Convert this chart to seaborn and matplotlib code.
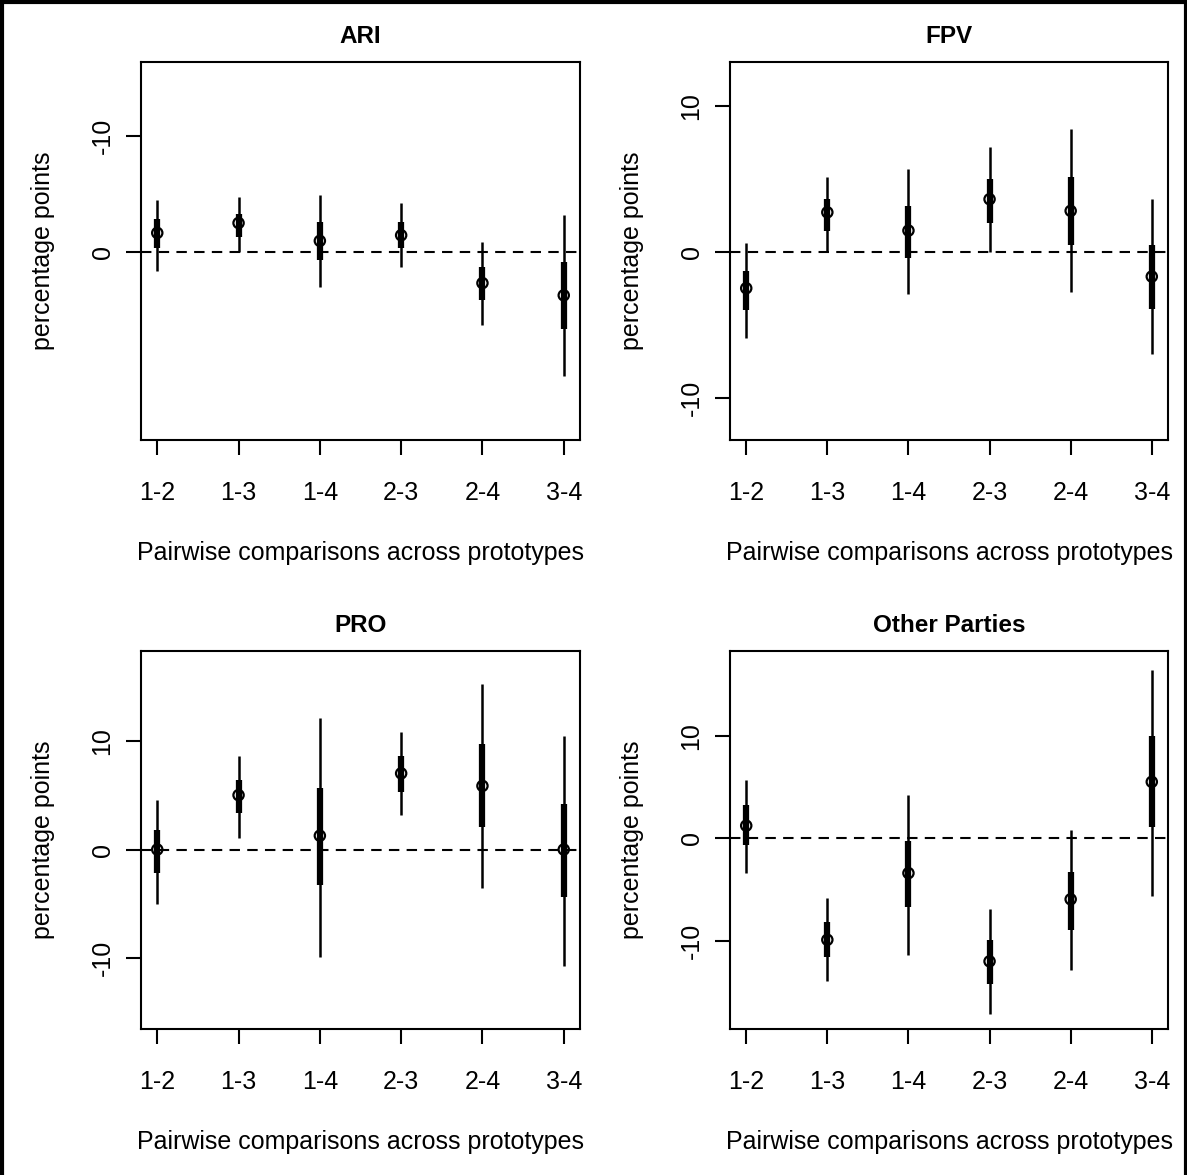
import numpy as np
import pandas as pd
import matplotlib
matplotlib.use("Agg")
import matplotlib.pyplot as plt
import seaborn as sns
from matplotlib.lines import Line2D

sns.set_style("white")
plt.rcParams['font.family'] = ['Liberation Sans', 'DejaVu Sans']
plt.rcParams['text.color'] = 'black'
plt.rcParams['axes.labelcolor'] = 'black'
plt.rcParams['xtick.color'] = 'black'
plt.rcParams['ytick.color'] = 'black'

comparisons = ["1-2", "1-3", "1-4", "2-3", "2-4", "3-4"]

# ARI (axis drawn reversed)
ari_est = [-1.65, -2.5, -0.97, -1.45, 2.65, 3.7]
ari_lo90 = [-2.84, -3.3, -2.6, -2.6, 1.3, 0.8]
ari_hi90 = [-0.35, -1.3, 0.7, -0.35, 4.1, 6.6]
ari_lo95 = [-4.5, -4.7, -4.9, -4.2, -0.9, -3.2]
ari_hi95 = [1.6, 0.0, 3.0, 1.26, 6.2, 10.6]

fpv_est = [-2.5, 2.7, 1.45, 3.6, 2.8, -1.7]
fpv_lo90 = [-4.0, 1.45, -0.45, 2.0, 0.45, -3.9]
fpv_hi90 = [-1.3, 3.6, 3.1, 5.0, 5.1, 0.45]
fpv_lo95 = [-5.9, 0.0, -2.9, 0.0, -2.75, -7.0]
fpv_hi95 = [0.6, 5.1, 5.7, 7.2, 8.4, 3.6]

pro_est = [0.0, 5.0, 1.27, 7.0, 5.85, 0.0]
pro_lo90 = [-2.2, 3.35, -3.3, 5.3, 2.05, -4.4]
pro_hi90 = [1.8, 6.4, 5.65, 8.6, 9.7, 4.2]
pro_lo95 = [-5.0, 1.1, -9.9, 3.15, -3.5, -10.7]
pro_hi95 = [4.55, 8.6, 12.1, 10.8, 15.2, 10.4]

oth_est = [1.23, -9.9, -3.4, -12.0, -5.95, 5.5]
oth_lo90 = [-0.7, -11.6, -6.7, -14.2, -8.9, 1.1]
oth_hi90 = [3.2, -8.2, -0.3, -9.9, -3.3, 10.0]
oth_lo95 = [-3.4, -13.9, -11.4, -17.1, -12.8, -5.6]
oth_hi95 = [5.7, -5.8, 4.2, -6.9, 0.8, 16.4]

panels = [
    dict(title="ARI", est=ari_est, lo90=ari_lo90, hi90=ari_hi90, lo95=ari_lo95, hi95=ari_hi95,
         ylim=(16.1, -16.3), yticks=[-10, 0], rect=(141, 62, 580, 440)),
    dict(title="FPV", est=fpv_est, lo90=fpv_lo90, hi90=fpv_hi90, lo95=fpv_lo95, hi95=fpv_hi95,
         ylim=(-12.9, 13.0), yticks=[-10, 0, 10], rect=(730, 62, 1168, 440)),
    dict(title="PRO", est=pro_est, lo90=pro_lo90, hi90=pro_hi90, lo95=pro_lo95, hi95=pro_hi95,
         ylim=(-16.5, 18.25), yticks=[-10, 0, 10], rect=(141, 651, 580, 1029)),
    dict(title="Other Parties", est=oth_est, lo90=oth_lo90, hi90=oth_hi90, lo95=oth_lo95, hi95=oth_hi95,
         ylim=(-18.6, 18.26), yticks=[-10, 0, 10], rect=(730, 651, 1168, 1029)),
]

W, H = 1187, 1175
fig = plt.figure(figsize=(W / 100, H / 100), dpi=100)
fs = 18

for p in panels:
    x0, y0, x1, y1 = p["rect"]
    ax = fig.add_axes([x0 / W, 1 - y1 / H, (x1 - x0) / W, (y1 - y0) / H])
    df = pd.DataFrame({"comp": comparisons, "x": np.arange(len(comparisons)),
                       "est": p["est"], "lo90": p["lo90"], "hi90": p["hi90"],
                       "lo95": p["lo95"], "hi95": p["hi95"]})
    ax.axhline(0, color="black", lw=1.5, ls=(0, (5, 3.5)), zorder=1)
    ax.vlines(df["x"], df["lo95"], df["hi95"], color="black", lw=1.8, zorder=2)
    ax.vlines(df["x"], df["lo90"], df["hi90"], color="black", lw=4.5, zorder=3)
    sns.scatterplot(data=df, x="x", y="est", ax=ax, marker="o", s=55,
                    facecolor="none", edgecolor="black", linewidth=1.6, zorder=4, legend=False)
    ax.set_xlim(-0.2, 5.2)
    ax.set_ylim(*p["ylim"])
    ax.set_xticks(df["x"])
    ax.set_xticklabels(comparisons)
    ax.set_yticks(p["yticks"])
    ax.set_yticklabels([str(t) for t in p["yticks"]], rotation=90, va="center")
    ax.tick_params(axis="both", direction="out", length=11, width=1.5, color="black",
                   labelsize=fs, labelcolor="black", bottom=True, left=True)
    ax.tick_params(axis="x", pad=18.5)
    ax.tick_params(axis="y", pad=8)
    for s in ax.spines.values():
        s.set_color("black")
        s.set_linewidth(1.5)
    ax.set_xlabel("Pairwise comparisons across prototypes", fontsize=fs, labelpad=26)
    ax.set_ylabel("percentage points", fontsize=fs, labelpad=25.5)
    ax.set_title(p["title"], fontsize=17.5, fontweight="bold", pad=14)

# outer frame
for xs, ys in [((1.5 / W, 1.5 / W), (0, 1)), ((0, 1), (1 - 1.5 / H, 1 - 1.5 / H)),
               ((1 - 1.5 / W, 1 - 1.5 / W), (0, 1))]:
    fig.add_artist(Line2D(xs, ys, color="black", lw=3, transform=fig.transFigure))

fig.savefig("out.png", dpi=100, facecolor="white")
